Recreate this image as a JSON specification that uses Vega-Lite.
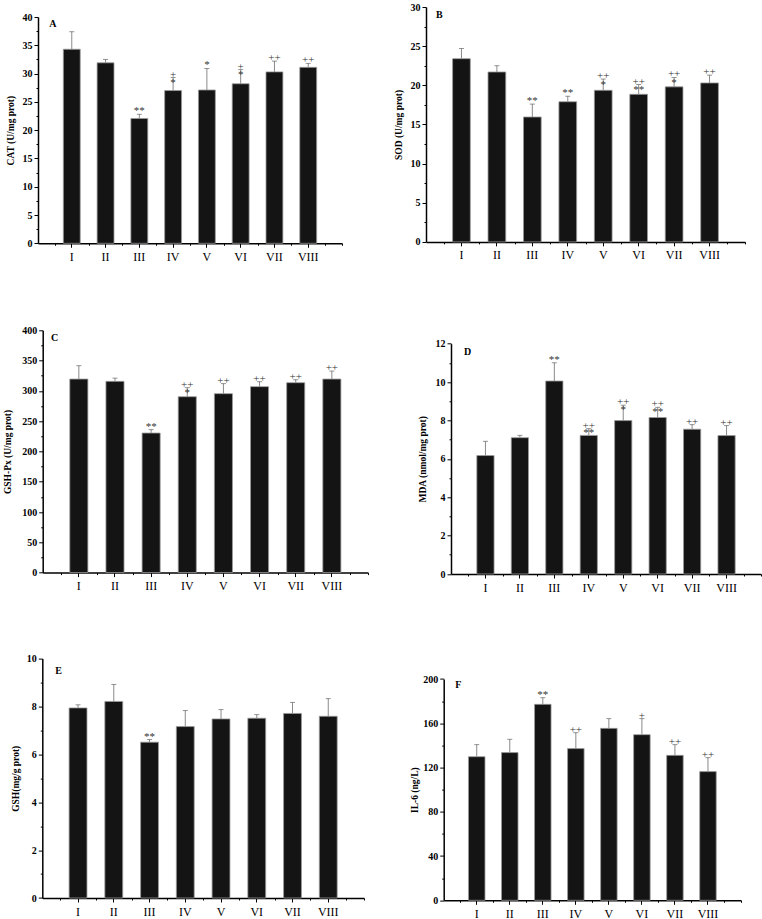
{
  "$schema": "https://vega.github.io/schema/vega-lite/v6.json",
  "background": "white",
  "padding": {"left": 2, "top": 2, "right": 0, "bottom": 0},
  "data": {"values": [
    {"panel": "A", "g": "I", "mean": 34.3, "upper": 37.4, "ann": ""},
    {"panel": "A", "g": "II", "mean": 31.9, "upper": 32.5, "ann": ""},
    {"panel": "A", "g": "III", "mean": 22.07, "upper": 22.8, "ann": "**"},
    {"panel": "A", "g": "IV", "mean": 27.0, "upper": 29.3, "ann": "+\n*"},
    {"panel": "A", "g": "V", "mean": 27.1, "upper": 30.9, "ann": "*"},
    {"panel": "A", "g": "VI", "mean": 28.2, "upper": 30.7, "ann": "+\n*"},
    {"panel": "A", "g": "VII", "mean": 30.3, "upper": 32.2, "ann": "++"},
    {"panel": "A", "g": "VIII", "mean": 31.1, "upper": 31.8, "ann": "++"},
    {"panel": "B", "g": "I", "mean": 23.4, "upper": 24.7, "ann": ""},
    {"panel": "B", "g": "II", "mean": 21.7, "upper": 22.5, "ann": ""},
    {"panel": "B", "g": "III", "mean": 15.95, "upper": 17.6, "ann": "**"},
    {"panel": "B", "g": "IV", "mean": 17.9, "upper": 18.6, "ann": "**"},
    {"panel": "B", "g": "V", "mean": 19.36, "upper": 20.8, "ann": "++\n*"},
    {"panel": "B", "g": "VI", "mean": 18.85, "upper": 20.1, "ann": "++\n**"},
    {"panel": "B", "g": "VII", "mean": 19.8, "upper": 21.0, "ann": "++\n*"},
    {"panel": "B", "g": "VIII", "mean": 20.3, "upper": 21.3, "ann": "++"},
    {"panel": "C", "g": "I", "mean": 319.5, "upper": 341.6, "ann": ""},
    {"panel": "C", "g": "II", "mean": 315.7, "upper": 321, "ann": ""},
    {"panel": "C", "g": "III", "mean": 230.4, "upper": 236, "ann": "**"},
    {"panel": "C", "g": "IV", "mean": 290.4, "upper": 305.3, "ann": "++\n*"},
    {"panel": "C", "g": "V", "mean": 295.4, "upper": 312, "ann": "++"},
    {"panel": "C", "g": "VI", "mean": 307, "upper": 315.2, "ann": "++"},
    {"panel": "C", "g": "VII", "mean": 313.5, "upper": 318.5, "ann": "++"},
    {"panel": "C", "g": "VIII", "mean": 319.5, "upper": 332.7, "ann": "++"},
    {"panel": "D", "g": "I", "mean": 6.17, "upper": 6.91, "ann": ""},
    {"panel": "D", "g": "II", "mean": 7.1, "upper": 7.22, "ann": ""},
    {"panel": "D", "g": "III", "mean": 10.05, "upper": 11.0, "ann": "**"},
    {"panel": "D", "g": "IV", "mean": 7.22, "upper": 7.57, "ann": "++\n**"},
    {"panel": "D", "g": "V", "mean": 7.99, "upper": 8.79, "ann": "++\n*"},
    {"panel": "D", "g": "VI", "mean": 8.15, "upper": 8.68, "ann": "++\n**"},
    {"panel": "D", "g": "VII", "mean": 7.54, "upper": 7.78, "ann": "++"},
    {"panel": "D", "g": "VIII", "mean": 7.21, "upper": 7.73, "ann": "++"},
    {"panel": "E", "g": "I", "mean": 7.94, "upper": 8.07, "ann": ""},
    {"panel": "E", "g": "II", "mean": 8.21, "upper": 8.92, "ann": ""},
    {"panel": "E", "g": "III", "mean": 6.51, "upper": 6.62, "ann": "**"},
    {"panel": "E", "g": "IV", "mean": 7.16, "upper": 7.83, "ann": ""},
    {"panel": "E", "g": "V", "mean": 7.48, "upper": 7.87, "ann": ""},
    {"panel": "E", "g": "VI", "mean": 7.51, "upper": 7.66, "ann": ""},
    {"panel": "E", "g": "VII", "mean": 7.71, "upper": 8.17, "ann": ""},
    {"panel": "E", "g": "VIII", "mean": 7.59, "upper": 8.33, "ann": ""},
    {"panel": "F", "g": "I", "mean": 129.8, "upper": 140.7, "ann": ""},
    {"panel": "F", "g": "II", "mean": 133.5, "upper": 145.5, "ann": ""},
    {"panel": "F", "g": "III", "mean": 177.1, "upper": 183.1, "ann": "**"},
    {"panel": "F", "g": "IV", "mean": 137.1, "upper": 151.5, "ann": "++"},
    {"panel": "F", "g": "V", "mean": 155.4, "upper": 164.2, "ann": ""},
    {"panel": "F", "g": "VI", "mean": 149.7, "upper": 164.2, "ann": "+"},
    {"panel": "F", "g": "VII", "mean": 131.0, "upper": 140.7, "ann": "++"},
    {"panel": "F", "g": "VIII", "mean": 116.3, "upper": 128.9, "ann": "++"}
  ]},
  "columns": 2,
  "bounds": "flush",
  "spacing": {"row": 86.3, "column": 58},
  "concat": [
    {
      "width": 330, "height": 237,
      "transform": [{"filter": "datum.panel === 'A'"}],
      "layer": [
        {
          "encoding": {"x": {"field": "g", "type": "nominal", "sort": null, "scale": {"type": "band", "paddingInner": 0.5, "paddingOuter": 0.75, "range": [0, 304]}, "axis": {"orient": "bottom", "title": null, "labelAngle": 0, "offset": -0.7, "tickSize": 4, "labelPadding": 4}}},
          "layer": [
            {"mark": {"type": "bar", "color": "#141414", "stroke": "#9a9a9a", "strokeWidth": 0.8},
             "encoding": {"y": {"field": "mean", "type": "quantitative", "scale": {"domain": [0, 40], "nice": false, "zero": true, "range": [236.3, 10]}, "axis": null}}},
            {"mark": {"type": "rule", "color": "#8a8a8a", "strokeWidth": 1},
             "encoding": {"y": {"field": "mean", "type": "quantitative", "axis": null}, "y2": {"field": "upper"}}},
            {"mark": {"type": "tick", "color": "#666666", "size": 5, "thickness": 1, "orient": "horizontal"},
             "encoding": {"y": {"field": "upper", "type": "quantitative", "axis": null}}},
            {"mark": {"type": "text", "baseline": "bottom", "dy": 2, "lineBreak": "\n", "lineHeight": 8.5, "font": "Liberation Serif", "fontSize": 11, "color": "#333333"},
             "encoding": {"y": {"field": "upper", "type": "quantitative", "axis": null}, "text": {"field": "ann"}}}
          ]
        },
        {
          "mark": {"type": "point", "opacity": 0},
          "encoding": {
            "y": {"datum": 0, "type": "quantitative", "scale": {"domain": [0, 40], "nice": false, "zero": true, "range": [236.3, 10]}, "axis": {"orient": "left", "title": "CAT (U/mg prot)", "values": [0, 5, 10, 15, 20, 25, 30, 35, 40], "offset": 0, "titlePadding": 7, "tickSize": 4, "labelPadding": 2}}
          }
        },
        {
          "mark": {"type": "point", "opacity": 0},
          "encoding": {
            "x": {"datum": 0, "type": "quantitative", "scale": {"domain": [0, 9], "range": [0, 304], "nice": false, "zero": false}, "axis": {"orient": "bottom", "values": [0.5, 1.5, 2.5, 3.5, 4.5, 5.5, 6.5, 7.5, 8.5, 9], "labels": false, "domain": false, "tickSize": 2, "title": null, "offset": -0.7}},
            "y": {"datum": 0, "type": "quantitative", "axis": {"orient": "left", "values": [2.5, 7.5, 12.5, 17.5, 22.5, 27.5, 32.5, 37.5], "labels": false, "domain": false, "tickSize": 2, "title": null, "offset": 0}}
          }
        },
        {
          "transform": [{"filter": "datum.g === 'I'"}],
          "mark": {"type": "text", "align": "left", "baseline": "alphabetic", "font": "Liberation Serif", "fontWeight": "bold", "fontSize": 10, "color": "#000"},
          "encoding": {
            "x": {"datum": 0.33, "type": "quantitative", "scale": {"domain": [0, 9], "range": [0, 304], "nice": false, "zero": false}, "axis": null},
            "y": {"datum": 38.2, "type": "quantitative", "axis": null},
            "text": {"value": "A"}
          }
        }
      ],
      "resolve": {"scale": {"x": "independent"}, "axis": {"x": "independent", "y": "independent"}}
    },
    {
      "width": 335, "height": 237,
      "transform": [{"filter": "datum.panel === 'B'"}],
      "layer": [
        {
          "encoding": {"x": {"field": "g", "type": "nominal", "sort": null, "scale": {"type": "band", "paddingInner": 0.5, "paddingOuter": 0.75, "range": [0, 319]}, "axis": {"orient": "bottom", "title": null, "labelAngle": 0, "offset": -2.1, "tickSize": 4, "labelPadding": 4}}},
          "layer": [
            {"mark": {"type": "bar", "color": "#141414", "stroke": "#9a9a9a", "strokeWidth": 0.8},
             "encoding": {"y": {"field": "mean", "type": "quantitative", "scale": {"domain": [0, 30], "nice": false, "zero": true, "range": [234.9, 0]}, "axis": null}}},
            {"mark": {"type": "rule", "color": "#8a8a8a", "strokeWidth": 1},
             "encoding": {"y": {"field": "mean", "type": "quantitative", "axis": null}, "y2": {"field": "upper"}}},
            {"mark": {"type": "tick", "color": "#666666", "size": 5, "thickness": 1, "orient": "horizontal"},
             "encoding": {"y": {"field": "upper", "type": "quantitative", "axis": null}}},
            {"mark": {"type": "text", "baseline": "bottom", "dy": 2, "lineBreak": "\n", "lineHeight": 8.5, "font": "Liberation Serif", "fontSize": 11, "color": "#333333"},
             "encoding": {"y": {"field": "upper", "type": "quantitative", "axis": null}, "text": {"field": "ann"}}}
          ]
        },
        {
          "mark": {"type": "point", "opacity": 0},
          "encoding": {
            "y": {"datum": 0, "type": "quantitative", "scale": {"domain": [0, 30], "nice": false, "zero": true, "range": [234.9, 0]}, "axis": {"orient": "left", "title": "SOD (U/mg prot)", "values": [0, 5, 10, 15, 20, 25, 30], "offset": 0, "titlePadding": 6.5, "tickSize": 4, "labelPadding": 2}}
          }
        },
        {
          "mark": {"type": "point", "opacity": 0},
          "encoding": {
            "x": {"datum": 0, "type": "quantitative", "scale": {"domain": [0, 9], "range": [0, 319], "nice": false, "zero": false}, "axis": {"orient": "bottom", "values": [0.5, 1.5, 2.5, 3.5, 4.5, 5.5, 6.5, 7.5, 8.5, 9], "labels": false, "domain": false, "tickSize": 2, "title": null, "offset": -2.1}},
            "y": {"datum": 0, "type": "quantitative", "axis": {"orient": "left", "values": [2.5, 7.5, 12.5, 17.5, 22.5, 27.5], "labels": false, "domain": false, "tickSize": 2, "title": null, "offset": 0}}
          }
        },
        {
          "transform": [{"filter": "datum.g === 'I'"}],
          "mark": {"type": "text", "align": "left", "baseline": "alphabetic", "font": "Liberation Serif", "fontWeight": "bold", "fontSize": 10, "color": "#000"},
          "encoding": {
            "x": {"datum": 0.28, "type": "quantitative", "scale": {"domain": [0, 9], "range": [0, 319], "nice": false, "zero": false}, "axis": null},
            "y": {"datum": 28.6, "type": "quantitative", "axis": null},
            "text": {"value": "B"}
          }
        }
      ],
      "resolve": {"scale": {"x": "independent"}, "axis": {"x": "independent", "y": "independent"}}
    },
    {
      "width": 330, "height": 244,
      "transform": [{"filter": "datum.panel === 'C'"}],
      "layer": [
        {
          "encoding": {"x": {"field": "g", "type": "nominal", "sort": null, "scale": {"type": "band", "paddingInner": 0.5, "paddingOuter": 0.75, "range": [4.7, 330]}, "axis": {"orient": "bottom", "title": null, "labelAngle": 0, "offset": -1.7, "tickSize": 4, "labelPadding": 4}}},
          "layer": [
            {"mark": {"type": "bar", "color": "#141414", "stroke": "#9a9a9a", "strokeWidth": 0.8},
             "encoding": {"y": {"field": "mean", "type": "quantitative", "scale": {"domain": [0, 400], "nice": false, "zero": true, "range": [242.3, 0]}, "axis": null}}},
            {"mark": {"type": "rule", "color": "#8a8a8a", "strokeWidth": 1},
             "encoding": {"y": {"field": "mean", "type": "quantitative", "axis": null}, "y2": {"field": "upper"}}},
            {"mark": {"type": "tick", "color": "#666666", "size": 5, "thickness": 1, "orient": "horizontal"},
             "encoding": {"y": {"field": "upper", "type": "quantitative", "axis": null}}},
            {"mark": {"type": "text", "baseline": "bottom", "dy": 2, "lineBreak": "\n", "lineHeight": 8.5, "font": "Liberation Serif", "fontSize": 11, "color": "#333333"},
             "encoding": {"y": {"field": "upper", "type": "quantitative", "axis": null}, "text": {"field": "ann"}}}
          ]
        },
        {
          "mark": {"type": "point", "opacity": 0},
          "encoding": {
            "y": {"datum": 0, "type": "quantitative", "scale": {"domain": [0, 400], "nice": false, "zero": true, "range": [242.3, 0]}, "axis": {"orient": "left", "title": "GSH-Px (U/mg prot)", "values": [0, 50, 100, 150, 200, 250, 300, 350, 400], "offset": -4.7, "titlePadding": 9, "tickSize": 4, "labelPadding": 2}}
          }
        },
        {
          "mark": {"type": "point", "opacity": 0},
          "encoding": {
            "x": {"datum": 0, "type": "quantitative", "scale": {"domain": [0, 9], "range": [4.7, 330], "nice": false, "zero": false}, "axis": {"orient": "bottom", "values": [0.5, 1.5, 2.5, 3.5, 4.5, 5.5, 6.5, 7.5, 8.5, 9], "labels": false, "domain": false, "tickSize": 2, "title": null, "offset": -1.7}},
            "y": {"datum": 0, "type": "quantitative", "axis": {"orient": "left", "values": [25, 75, 125, 175, 225, 275, 325, 375], "labels": false, "domain": false, "tickSize": 2, "title": null, "offset": -4.7}}
          }
        },
        {
          "transform": [{"filter": "datum.g === 'I'"}],
          "mark": {"type": "text", "align": "left", "baseline": "alphabetic", "font": "Liberation Serif", "fontWeight": "bold", "fontSize": 10, "color": "#000"},
          "encoding": {
            "x": {"datum": 0.23, "type": "quantitative", "scale": {"domain": [0, 9], "range": [4.7, 330], "nice": false, "zero": false}, "axis": null},
            "y": {"datum": 382, "type": "quantitative", "axis": null},
            "text": {"value": "C"}
          }
        }
      ],
      "resolve": {"scale": {"x": "independent"}, "axis": {"x": "independent", "y": "independent"}}
    },
    {
      "width": 335, "height": 244,
      "transform": [{"filter": "datum.panel === 'D'"}],
      "layer": [
        {
          "encoding": {"x": {"field": "g", "type": "nominal", "sort": null, "scale": {"type": "band", "paddingInner": 0.5, "paddingOuter": 0.75, "range": [25, 335]}, "axis": {"orient": "bottom", "title": null, "labelAngle": 0, "offset": -0.3, "tickSize": 4, "labelPadding": 4}}},
          "layer": [
            {"mark": {"type": "bar", "color": "#141414", "stroke": "#9a9a9a", "strokeWidth": 0.8},
             "encoding": {"y": {"field": "mean", "type": "quantitative", "scale": {"domain": [0, 12], "nice": false, "zero": true, "range": [243.7, 13.3]}, "axis": null}}},
            {"mark": {"type": "rule", "color": "#8a8a8a", "strokeWidth": 1},
             "encoding": {"y": {"field": "mean", "type": "quantitative", "axis": null}, "y2": {"field": "upper"}}},
            {"mark": {"type": "tick", "color": "#666666", "size": 5, "thickness": 1, "orient": "horizontal"},
             "encoding": {"y": {"field": "upper", "type": "quantitative", "axis": null}}},
            {"mark": {"type": "text", "baseline": "bottom", "dy": 2, "lineBreak": "\n", "lineHeight": 7.5, "font": "Liberation Serif", "fontSize": 11, "color": "#333333"},
             "encoding": {"y": {"field": "upper", "type": "quantitative", "axis": null}, "text": {"field": "ann"}}}
          ]
        },
        {
          "mark": {"type": "point", "opacity": 0},
          "encoding": {
            "y": {"datum": 0, "type": "quantitative", "scale": {"domain": [0, 12], "nice": false, "zero": true, "range": [243.7, 13.3]}, "axis": {"orient": "left", "title": "MDA (nmol/mg prot)", "values": [0, 2, 4, 6, 8, 10, 12], "offset": -25, "titlePadding": 7.5, "tickSize": 4, "labelPadding": 2}}
          }
        },
        {
          "mark": {"type": "point", "opacity": 0},
          "encoding": {
            "x": {"datum": 0, "type": "quantitative", "scale": {"domain": [0, 9], "range": [25, 335], "nice": false, "zero": false}, "axis": {"orient": "bottom", "values": [0.5, 1.5, 2.5, 3.5, 4.5, 5.5, 6.5, 7.5, 8.5, 9], "labels": false, "domain": false, "tickSize": 2, "title": null, "offset": -0.3}},
            "y": {"datum": 0, "type": "quantitative", "axis": {"orient": "left", "values": [1, 3, 5, 7, 9, 11], "labels": false, "domain": false, "tickSize": 2, "title": null, "offset": -25}}
          }
        },
        {
          "transform": [{"filter": "datum.g === 'I'"}],
          "mark": {"type": "text", "align": "left", "baseline": "alphabetic", "font": "Liberation Serif", "fontWeight": "bold", "fontSize": 10, "color": "#000"},
          "encoding": {
            "x": {"datum": 0.38, "type": "quantitative", "scale": {"domain": [0, 9], "range": [25, 335], "nice": false, "zero": false}, "axis": null},
            "y": {"datum": 11.42, "type": "quantitative", "axis": null},
            "text": {"value": "D"}
          }
        }
      ],
      "resolve": {"scale": {"x": "independent"}, "axis": {"x": "independent", "y": "independent"}}
    },
    {
      "width": 330, "height": 240,
      "transform": [{"filter": "datum.panel === 'E'"}],
      "layer": [
        {
          "encoding": {"x": {"field": "g", "type": "nominal", "sort": null, "scale": {"type": "band", "paddingInner": 0.5, "paddingOuter": 0.75, "range": [4.3, 326]}, "axis": {"orient": "bottom", "title": null, "labelAngle": 0, "offset": -2.6, "tickSize": 4, "labelPadding": 4}}},
          "layer": [
            {"mark": {"type": "bar", "color": "#141414", "stroke": "#9a9a9a", "strokeWidth": 0.8},
             "encoding": {"y": {"field": "mean", "type": "quantitative", "scale": {"domain": [0, 10], "nice": false, "zero": true, "range": [237.4, -2]}, "axis": null}}},
            {"mark": {"type": "rule", "color": "#8a8a8a", "strokeWidth": 1},
             "encoding": {"y": {"field": "mean", "type": "quantitative", "axis": null}, "y2": {"field": "upper"}}},
            {"mark": {"type": "tick", "color": "#666666", "size": 5, "thickness": 1, "orient": "horizontal"},
             "encoding": {"y": {"field": "upper", "type": "quantitative", "axis": null}}},
            {"mark": {"type": "text", "baseline": "bottom", "dy": 2, "lineBreak": "\n", "lineHeight": 8.5, "font": "Liberation Serif", "fontSize": 11, "color": "#333333"},
             "encoding": {"y": {"field": "upper", "type": "quantitative", "axis": null}, "text": {"field": "ann"}}}
          ]
        },
        {
          "mark": {"type": "point", "opacity": 0},
          "encoding": {
            "y": {"datum": 0, "type": "quantitative", "scale": {"domain": [0, 10], "nice": false, "zero": true, "range": [237.4, -2]}, "axis": {"orient": "left", "title": "GSH(mg/g prot)", "values": [0, 2, 4, 6, 8, 10], "offset": -4.3, "titlePadding": 6, "tickSize": 4, "labelPadding": 2}}
          }
        },
        {
          "mark": {"type": "point", "opacity": 0},
          "encoding": {
            "x": {"datum": 0, "type": "quantitative", "scale": {"domain": [0, 9], "range": [4.3, 326], "nice": false, "zero": false}, "axis": {"orient": "bottom", "values": [0.5, 1.5, 2.5, 3.5, 4.5, 5.5, 6.5, 7.5, 8.5, 9], "labels": false, "domain": false, "tickSize": 2, "title": null, "offset": -2.6}},
            "y": {"datum": 0, "type": "quantitative", "axis": {"orient": "left", "values": [1, 3, 5, 7, 9], "labels": false, "domain": false, "tickSize": 2, "title": null, "offset": -4.3}}
          }
        },
        {
          "transform": [{"filter": "datum.g === 'I'"}],
          "mark": {"type": "text", "align": "left", "baseline": "alphabetic", "font": "Liberation Serif", "fontWeight": "bold", "fontSize": 10, "color": "#000"},
          "encoding": {
            "x": {"datum": 0.36, "type": "quantitative", "scale": {"domain": [0, 9], "range": [4.3, 326], "nice": false, "zero": false}, "axis": null},
            "y": {"datum": 9.35, "type": "quantitative", "axis": null},
            "text": {"value": "E"}
          }
        }
      ],
      "resolve": {"scale": {"x": "independent"}, "axis": {"x": "independent", "y": "independent"}}
    },
    {
      "width": 335, "height": 240,
      "transform": [{"filter": "datum.panel === 'F'"}],
      "layer": [
        {
          "encoding": {"x": {"field": "g", "type": "nominal", "sort": null, "scale": {"type": "band", "paddingInner": 0.5, "paddingOuter": 0.75, "range": [17.7, 315]}, "axis": {"orient": "bottom", "title": null, "labelAngle": 0, "offset": -0.3, "tickSize": 4, "labelPadding": 4}}},
          "layer": [
            {"mark": {"type": "bar", "color": "#141414", "stroke": "#9a9a9a", "strokeWidth": 0.8},
             "encoding": {"y": {"field": "mean", "type": "quantitative", "scale": {"domain": [0, 200], "nice": false, "zero": true, "range": [239.7, 18.4]}, "axis": null}}},
            {"mark": {"type": "rule", "color": "#8a8a8a", "strokeWidth": 1},
             "encoding": {"y": {"field": "mean", "type": "quantitative", "axis": null}, "y2": {"field": "upper"}}},
            {"mark": {"type": "tick", "color": "#666666", "size": 5, "thickness": 1, "orient": "horizontal"},
             "encoding": {"y": {"field": "upper", "type": "quantitative", "axis": null}}},
            {"mark": {"type": "text", "baseline": "bottom", "dy": 2, "lineBreak": "\n", "lineHeight": 8.5, "font": "Liberation Serif", "fontSize": 11, "color": "#333333"},
             "encoding": {"y": {"field": "upper", "type": "quantitative", "axis": null}, "text": {"field": "ann"}}}
          ]
        },
        {
          "mark": {"type": "point", "opacity": 0},
          "encoding": {
            "y": {"datum": 0, "type": "quantitative", "scale": {"domain": [0, 200], "nice": false, "zero": true, "range": [239.7, 18.4]}, "axis": {"orient": "left", "title": "IL-6 (ng/L)", "values": [0, 40, 80, 120, 160, 200], "offset": -17.7, "titlePadding": 3.5, "tickSize": 4, "labelPadding": 2}}
          }
        },
        {
          "mark": {"type": "point", "opacity": 0},
          "encoding": {
            "x": {"datum": 0, "type": "quantitative", "scale": {"domain": [0, 9], "range": [17.7, 315], "nice": false, "zero": false}, "axis": {"orient": "bottom", "values": [0.5, 1.5, 2.5, 3.5, 4.5, 5.5, 6.5, 7.5, 8.5, 9], "labels": false, "domain": false, "tickSize": 2, "title": null, "offset": -0.3}},
            "y": {"datum": 0, "type": "quantitative", "axis": {"orient": "left", "values": [20, 60, 100, 140, 180], "labels": false, "domain": false, "tickSize": 2, "title": null, "offset": -17.7}}
          }
        },
        {
          "transform": [{"filter": "datum.g === 'I'"}],
          "mark": {"type": "text", "align": "left", "baseline": "alphabetic", "font": "Liberation Serif", "fontWeight": "bold", "fontSize": 10, "color": "#000"},
          "encoding": {
            "x": {"datum": 0.35, "type": "quantitative", "scale": {"domain": [0, 9], "range": [17.7, 315], "nice": false, "zero": false}, "axis": null},
            "y": {"datum": 191.8, "type": "quantitative", "axis": null},
            "text": {"value": "F"}
          }
        }
      ],
      "resolve": {"scale": {"x": "independent"}, "axis": {"x": "independent", "y": "independent"}}
    }
  ],
  "config": {
    "view": {"stroke": null},
    "axis": {"grid": false, "domainColor": "#000", "domainWidth": 1.5, "tickColor": "#000", "tickWidth": 1, "labelColor": "#000", "titleColor": "#000", "labelFont": "Liberation Serif", "titleFont": "Liberation Serif"},
    "axisX": {"labelFontSize": 12, "labelFontWeight": "normal"},
    "axisY": {"labelFontSize": 10, "labelFontWeight": "bold", "titleFontSize": 9.5, "titleFontWeight": "bold"}
  }
}
